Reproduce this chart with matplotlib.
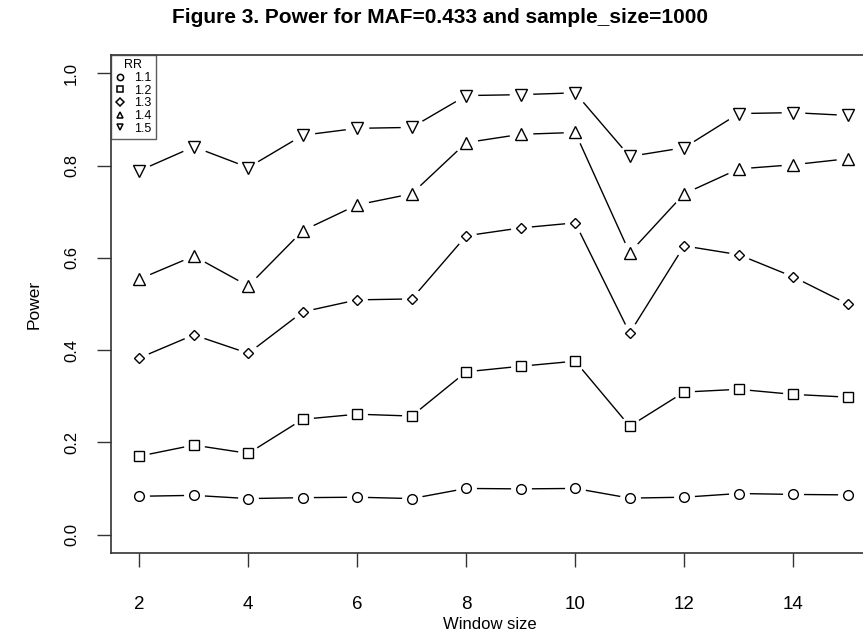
import numpy as np
import matplotlib.pyplot as plt
from matplotlib.lines import Line2D

plt.rcParams['font.family'] = ['Liberation Sans', 'DejaVu Sans']

window = [2, 3, 4, 5, 6, 7, 8, 9, 10, 11, 12, 13, 14, 15]

rr_11 = [0.083, 0.085, 0.078, 0.080, 0.081, 0.078, 0.100, 0.099, 0.100, 0.079, 0.081, 0.089, 0.087, 0.086]
rr_12 = [0.170, 0.194, 0.176, 0.250, 0.261, 0.257, 0.353, 0.365, 0.376, 0.235, 0.309, 0.315, 0.304, 0.298]
rr_13 = [0.383, 0.433, 0.393, 0.483, 0.509, 0.511, 0.648, 0.665, 0.676, 0.437, 0.626, 0.607, 0.559, 0.500]
rr_14 = [0.554, 0.604, 0.539, 0.659, 0.715, 0.739, 0.850, 0.868, 0.872, 0.611, 0.739, 0.793, 0.802, 0.815]
rr_15 = [0.789, 0.841, 0.796, 0.866, 0.881, 0.883, 0.952, 0.954, 0.958, 0.820, 0.839, 0.913, 0.915, 0.909]

labels = ['1.1', '1.2', '1.3', '1.4', '1.5']
series = [rr_11, rr_12, rr_13, rr_14, rr_15]
markers = ['o', 's', 'D', '^', 'v']
sizes = [7, 6.5, 5.4, 9, 9]

fig = plt.figure(figsize=(8.63, 6.33), dpi=100)
# right edge of the box is cut off in the original, so the axes run past the figure
ax = fig.add_axes([0.1286, 0.1264, 0.8864, 0.7867])

for y, m, s in zip(series, markers, sizes):
    ax.plot(window, y, color='black', lw=1.0, zorder=1)
    # white halo so the lines stop short of the points (R type="b")
    ax.plot(window, y, ls='none', marker='o', ms=max(s, 7) + 7, mfc='white', mec='white', zorder=2)
    ax.plot(window, y, ls='none', marker=m, ms=s, mfc='none', mec='black', mew=1.0, zorder=3)

ax.set_xlim(1.48, 15.52)
ax.set_ylim(-0.04, 1.04)
ax.set_xticks([2, 4, 6, 8, 10, 12, 14])
ax.set_yticks([0.0, 0.2, 0.4, 0.6, 0.8, 1.0])
ax.set_yticklabels(['0.0', '0.2', '0.4', '0.6', '0.8', '1.0'], rotation=90, va='center')
ax.tick_params(axis='both', length=10, width=1, color='#333333')
ax.tick_params(axis='x', pad=21, labelsize=13.5)
ax.tick_params(axis='y', pad=13, labelsize=12)
for sp in ax.spines.values():
    sp.set_linewidth(1.2)
    sp.set_color('#333333')

ax.set_xlabel('Window size', fontsize=12, va='center')
ax.xaxis.set_label_coords(0.495, -0.1435)
ax.set_ylabel('Power', fontsize=12.5, va='center')
ax.yaxis.set_label_coords(-0.1, 0.5)

fig.text(0.51, 0.973, 'Figure 3. Power for MAF=0.433 and sample_size=1000',
         ha='center', va='center', fontsize=15, fontweight='bold')

handles = [Line2D([], [], ls='none', marker=m, ms=4.5, mfc='none', mec='black', mew=1.1)
           for m in markers]
leg = ax.legend(handles, labels, title='RR', loc='upper left', bbox_to_anchor=(0, 1),
                fontsize=9, title_fontsize=9, frameon=True, fancybox=False,
                borderaxespad=0, handlelength=0.8, handletextpad=0.7, labelspacing=0.05,
                borderpad=0.35)
leg.get_frame().set_edgecolor('#333333')
leg.get_frame().set_linewidth(1.0)

fig.savefig('out.png', dpi=100)
